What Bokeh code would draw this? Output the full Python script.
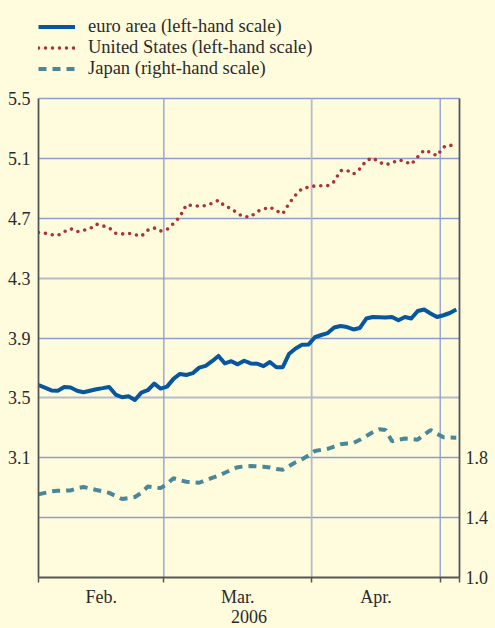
from bokeh.plotting import figure
from bokeh.models import (Range1d, LinearAxis, FixedTicker, Grid, Legend, LegendItem,
                          NumeralTickFormatter, GlobalInlineStyleSheet)
from bokeh.embed import file_html
from bokeh.resources import INLINE

# ---- data (daily, business days, Feb 1 - May 3 2006) ----
months = ["Feb.", "Mar.", "Apr."]
month_business_days = [20, 23, 20]
year_label = "2006"

euro = [3.585, 3.568, 3.550, 3.547, 3.572, 3.569, 3.548, 3.538, 3.548, 3.558,
        3.565, 3.573, 3.522, 3.504, 3.511, 3.486, 3.535, 3.551, 3.595, 3.562,
        3.575, 3.627, 3.660, 3.653, 3.665, 3.702, 3.714, 3.745, 3.780, 3.730,
        3.745, 3.724, 3.748, 3.730, 3.728, 3.712, 3.740, 3.705, 3.705, 3.795,
        3.830, 3.855, 3.856, 3.905, 3.920, 3.933, 3.970, 3.980, 3.973, 3.957,
        3.967, 4.030, 4.040, 4.039, 4.037, 4.041, 4.018, 4.040, 4.030, 4.080,
        4.090, 4.064, 4.040, 4.052, 4.067, 4.090]

us = [4.605, 4.600, 4.590, 4.585, 4.610, 4.630, 4.610, 4.620, 4.630, 4.660,
      4.650, 4.635, 4.600, 4.595, 4.600, 4.590, 4.580, 4.620, 4.635, 4.615,
      4.625, 4.665, 4.710, 4.790, 4.785, 4.780, 4.785, 4.800, 4.820, 4.780,
      4.765, 4.730, 4.710, 4.710, 4.745, 4.760, 4.775, 4.750, 4.730, 4.800,
      4.855, 4.898, 4.907, 4.916, 4.917, 4.918, 4.945, 5.018, 5.020, 4.995,
      5.030, 5.085, 5.103, 5.075, 5.057, 5.070, 5.090, 5.080, 5.060, 5.110,
      5.155, 5.140, 5.117, 5.175, 5.190, 5.170]

japan = [1.555, 1.565, 1.575, 1.580, 1.580, 1.582, 1.595, 1.605, 1.595, 1.585,
         1.575, 1.565, 1.545, 1.524, 1.530, 1.538, 1.565, 1.608, 1.603, 1.597,
         1.625, 1.663, 1.650, 1.640, 1.637, 1.633, 1.650, 1.665, 1.680, 1.700,
         1.720, 1.737, 1.742, 1.745, 1.743, 1.740, 1.735, 1.725, 1.720, 1.745,
         1.770, 1.790, 1.815, 1.845, 1.853, 1.860, 1.875, 1.890, 1.895, 1.898,
         1.920, 1.945, 1.970, 1.990, 1.985, 1.910, 1.920, 1.928, 1.925, 1.921,
         1.955, 1.985, 1.960, 1.937, 1.935, 1.934]

left_ticks = [3.1, 3.5, 3.9, 4.3, 4.7, 5.1, 5.5]
right_ticks = [1.0, 1.4, 1.8]
left_limits = (2.3, 5.5)
right_limits = (1.0, 4.2)

labels = ["euro area (left-hand scale)", "United States (left-hand scale)",
          "Japan (right-hand scale)"]

# ---- styling ----
BG = "#fffcde"
EURO_C = "#0656a0"
US_C = "#a83434"
JP_C = "#4a8899"
GRID_BLUE = "#8e9bd2"
GRID_GREY = "#b6bacb"
AXIS_C = "#555555"
TEXT_C = "#2a2a2a"
FONT = "Liberation Serif"
FS = "18px"

# layout (pixels)
DATA_H = 479          # height of the value area
HEAD_H = 98           # space above it for the legend
FRAME_W = 421
ROW_H = 21
LEGEND_TOP = 16

x = list(range(len(euro)))

# month boundaries (between last day of a month and first of next)
bounds = [0.0]
acc = 0
for n in month_business_days:
    acc += n
    bounds.append(acc - 0.5)
centers = [(bounds[i] + bounds[i + 1]) / 2 for i in range(len(months))]
x_end = len(euro) - 0.5

# extend the ranges upward so the legend area lies inside the frame
span = left_limits[1] - left_limits[0]
extra = span * HEAD_H / DATA_H
y_top_left = left_limits[1] + extra
y_top_right = right_limits[1] + extra

p = figure(frame_width=FRAME_W, frame_height=DATA_H + HEAD_H, output_backend="svg",
           toolbar_location=None, x_range=Range1d(0, x_end),
           y_range=Range1d(left_limits[0], y_top_left),
           min_border_left=38, min_border_top=0, min_border_right=10,
           min_border_bottom=0)
p.background_fill_color = BG
p.border_fill_color = BG
p.outline_line_color = None
p.xgrid.visible = False
p.ygrid.visible = False
p.stylesheets = [GlobalInlineStyleSheet(css="html, body { background-color: %s; }" % BG)]

# horizontal grids
blue_h = [2.7, 3.1, 3.9, 4.7, 5.1, 5.5]
grey_h = [3.5, 4.3]
p.add_layout(Grid(dimension=1, ticker=FixedTicker(ticks=blue_h),
                  grid_line_color=GRID_BLUE, grid_line_width=1.3))
p.add_layout(Grid(dimension=1, ticker=FixedTicker(ticks=grey_h),
                  grid_line_color=GRID_GREY, grid_line_width=1.8))
# vertical month-boundary lines, limited to the value area
vb_blue = [bounds[1], bounds[3]]
vb_grey = [bounds[2]]
p.segment(x0=vb_blue, x1=vb_blue, y0=[left_limits[0]] * 2, y1=[left_limits[1]] * 2,
          line_color=GRID_BLUE, line_width=1.3)
p.segment(x0=vb_grey, x1=vb_grey, y0=[left_limits[0]], y1=[left_limits[1]],
          line_color=GRID_GREY, line_width=1.8)

# right range
p.extra_y_ranges = {"right": Range1d(right_limits[0], y_top_right)}

r_jp = p.line(x, japan, y_range_name="right", line_color=JP_C, line_width=4,
              line_dash="8 6")
r_us = p.line(x, us, line_color=US_C, line_width=3.6, line_dash="0 7",
              line_cap="round")
r_eu = p.line(x, euro, line_color=EURO_C, line_width=4, line_join="round")

# left axis
ya = p.yaxis[0]
ya.ticker = FixedTicker(ticks=left_ticks)
ya.formatter = NumeralTickFormatter(format="0.0")
ya.bounds = left_limits
ya.major_tick_out = 0
ya.major_tick_in = 0
ya.minor_tick_out = 0
ya.minor_tick_in = 0
ya.major_label_standoff = 8
ya.axis_line_color = AXIS_C
ya.axis_line_width = 1.8
ya.major_label_text_font = FONT
ya.major_label_text_font_size = FS
ya.major_label_text_color = TEXT_C

# right axis
ra = LinearAxis(y_range_name="right", ticker=FixedTicker(ticks=right_ticks),
                formatter=NumeralTickFormatter(format="0.0"), bounds=right_limits)
ra.major_tick_out = 0
ra.major_tick_in = 0
ra.minor_tick_out = 0
ra.minor_tick_in = 0
ra.major_label_standoff = 6
ra.axis_line_color = AXIS_C
ra.axis_line_width = 1.8
ra.major_label_text_font = FONT
ra.major_label_text_font_size = FS
ra.major_label_text_color = TEXT_C
p.add_layout(ra, "right")

# bottom axis
xa = p.xaxis[0]
xa.ticker = FixedTicker(ticks=centers, minor_ticks=bounds + [x_end])
xa.major_label_overrides = {c: m for c, m in zip(centers, months)}
xa.major_tick_out = 0
xa.major_tick_in = 0
xa.minor_tick_out = 5
xa.minor_tick_in = 0
xa.minor_tick_line_color = AXIS_C
xa.minor_tick_line_width = 1.5
xa.axis_line_color = AXIS_C
xa.axis_line_width = 1.8
xa.major_label_standoff = 4
xa.major_label_text_font = FONT
xa.major_label_text_font_size = FS
xa.major_label_text_color = TEXT_C
xa.axis_label = year_label
xa.axis_label_text_font = FONT
xa.axis_label_text_font_size = FS
xa.axis_label_text_font_style = "normal"
xa.axis_label_text_color = TEXT_C
xa.axis_label_standoff = 0

legend = Legend(items=[LegendItem(label=labels[0], renderers=[r_eu]),
                       LegendItem(label=labels[1], renderers=[r_us]),
                       LegendItem(label=labels[2], renderers=[r_jp])],
                location=(0, DATA_H + HEAD_H - LEGEND_TOP - 3 * ROW_H))
legend.glyph_width = 37
legend.glyph_height = ROW_H
legend.label_height = ROW_H
legend.label_standoff = 13
legend.spacing = 0
legend.padding = 0
legend.margin = 0
legend.background_fill_alpha = 0
legend.border_line_alpha = 0
legend.label_text_font = FONT
legend.label_text_font_size = "18.5px"
legend.label_text_color = TEXT_C
p.add_layout(legend)

open("out.html", "w").write(file_html(p, INLINE))
